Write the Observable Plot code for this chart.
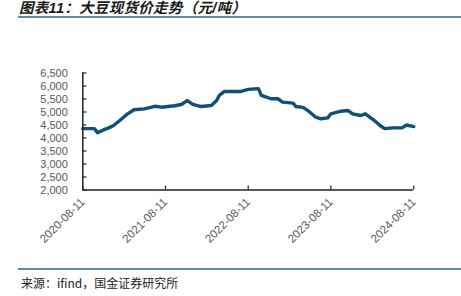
<!DOCTYPE html>
<html>
<head>
<meta charset="utf-8">
<script src="https://cdn.jsdelivr.net/npm/d3@7"></script>
<script src="https://cdn.jsdelivr.net/npm/@observablehq/plot@0.6"></script>
<style>
  html, body { margin: 0; padding: 0; background: #fff; width: 461px; height: 296px; overflow: hidden; }
  #title { position: absolute; left: 19px; top: 0px; line-height: 16px; font-family: "Liberation Sans", "Noto Sans CJK SC", sans-serif; font-weight: bold; font-style: italic; font-size: 14.5px; color: #1a1a1a; white-space: nowrap; letter-spacing: 0.3px; }
  #topline { position: absolute; left: 18px; right: 0; top: 16px; height: 2px; background: #5f89a9; }
  #bottomline { position: absolute; left: 18px; right: 0; top: 268px; height: 2px; background: #5f89a9; }
  #source { position: absolute; left: 21px; top: 274px; font-family: "Noto Sans CJK SC", sans-serif; font-size: 12px; color: #222; white-space: nowrap; }
  #chart { position: absolute; left: 0; top: 20px; }
</style>
</head>
<body>
<div id="title">图表11：大豆现货价走势（元/吨）</div>
<div id="topline"></div>
<div id="chart"></div>
<div id="bottomline"></div>
<div id="source">来源：ifind，国金证券研究所</div>
<script>
const dates = ["2020-08-11","2020-10-01","2020-10-15","2020-11-10","2020-12-01","2020-12-25","2021-01-25","2021-02-25","2021-03-25","2021-05-10","2021-06-25","2021-07-25","2021-09-20","2021-10-20","2021-11-15","2021-12-10","2022-01-15","2022-03-01","2022-03-25","2022-04-05","2022-04-28","2022-07-10","2022-08-11","2022-09-25","2022-10-08","2022-11-20","2022-12-20","2023-01-10","2023-02-25","2023-03-10","2023-04-10","2023-05-05","2023-06-05","2023-06-28","2023-07-28","2023-08-11","2023-09-25","2023-10-25","2023-11-15","2023-12-20","2024-01-10","2024-02-15","2024-03-15","2024-04-05","2024-05-10","2024-06-20","2024-07-10","2024-08-11"];
const prices = [4360,4360,4200,4310,4380,4480,4700,4930,5085,5120,5220,5185,5240,5290,5440,5290,5210,5250,5440,5635,5790,5790,5870,5900,5640,5510,5510,5380,5340,5210,5180,5030,4800,4740,4775,4930,5030,5060,4930,4865,4930,4700,4480,4360,4390,4390,4500,4440];
const xTickLabels = ["2020-08-11","2021-08-11","2022-08-11","2023-08-11","2024-08-11"];
const yTickValues = [2000,2500,3000,3500,4000,4500,5000,5500,6000,6500];

const parse = d3.utcParse("%Y-%m-%d");
const data = dates.map((d, i) => ({date: parse(d), value: prices[i]}));
const xTicks = xTickLabels.map(parse);
const x0 = xTicks[0], x1 = xTicks[xTicks.length - 1];
const yMin = yTickValues[0];
const tickDays = 18 * 86400000;

const chart = Plot.plot({
  width: 461,
  height: 248,
  marginLeft: 82.3,
  marginRight: 47.7,
  marginTop: 52.5,
  marginBottom: 78.5,
  style: {fontFamily: "'Liberation Sans', Arial, sans-serif", fontSize: "11px", color: "#595959", background: "transparent", overflow: "visible"},
  x: {type: "utc", domain: [x0, x1]},
  y: {domain: [yMin, yTickValues[yTickValues.length - 1]]},
  marks: [
    Plot.axisY({ticks: yTickValues, tickSize: 0, tickPadding: 15, tickFormat: d3.format(","), label: null, fill: "#595959"}),
    Plot.axisX({ticks: xTicks, tickSize: 0, tickPadding: 10, tickRotate: -45, tickFormat: d3.utcFormat("%Y-%m-%d"), label: null, fill: "#595959", fontSize: 11.5}),
    Plot.ruleY(yTickValues, {y: d => d, x1: () => x0, x2: () => new Date(+x0 + tickDays), stroke: "#222", strokeWidth: 1.2}),
    Plot.ruleX(xTicks, {x: d => d, y1: yMin, y2: yMin + 150, stroke: "#222", strokeWidth: 1.2}),
    Plot.lineY(data, {x: "date", y: "value", stroke: "#0f4f78", strokeWidth: 3.4, strokeLinejoin: "round", strokeLinecap: "round"}),
    Plot.ruleX([x0], {stroke: "#222", strokeWidth: 1.5}),
    Plot.ruleY([yMin], {stroke: "#222", strokeWidth: 1.5})
  ]
});
document.getElementById("chart").appendChild(chart);
</script>
</body>
</html>
